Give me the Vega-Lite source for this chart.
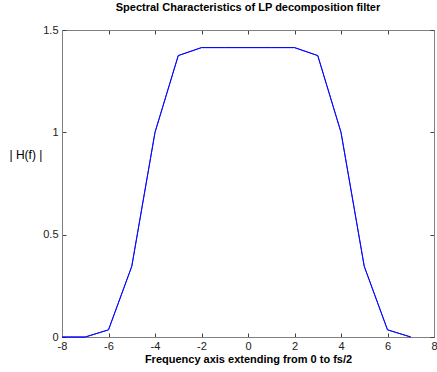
{
  "$schema": "https://vega.github.io/schema/vega-lite/v6.json",
  "width": 372,
  "height": 307,
  "autosize": {"type": "none"},
  "padding": {"left": 62, "top": 30, "right": 3, "bottom": 35},
  "background": "white",
  "title": {"text": "Spectral Characteristics of LP decomposition filter", "font": "Liberation Sans", "fontSize": 11, "fontWeight": "bold", "color": "black", "anchor": "middle", "offset": 11},
  "config": {
    "view": {"stroke": "#808080", "strokeWidth": 1},
    "axis": {"grid": false, "domainColor": "#808080", "tickColor": "#404040", "tickSize": -4, "labelFont": "Liberation Sans", "labelFontSize": 11, "labelColor": "#202020", "titleFont": "Liberation Sans", "titleColor": "black"}
  },
  "data": {"values": [
    {"f": -8, "h": 0}, {"f": -7, "h": 0}, {"f": -6, "h": 0.035}, {"f": -5, "h": 0.345},
    {"f": -4, "h": 1.0}, {"f": -3, "h": 1.375}, {"f": -2, "h": 1.414}, {"f": -1, "h": 1.414},
    {"f": 0, "h": 1.414}, {"f": 1, "h": 1.414}, {"f": 2, "h": 1.414}, {"f": 3, "h": 1.375},
    {"f": 4, "h": 1.0}, {"f": 5, "h": 0.345}, {"f": 6, "h": 0.035}, {"f": 7, "h": 0}
  ]},
  "resolve": {"axis": {"x": "independent", "y": "independent"}},
  "layer": [
    {
      "mark": {"type": "line", "color": "#0000FF", "strokeWidth": 0.9},
      "encoding": {
        "x": {"field": "f", "type": "quantitative", "scale": {"domain": [-8, 8], "nice": false, "zero": false},
          "axis": {"orient": "bottom", "values": [-8, -6, -4, -2, 0, 2, 4, 6, 8], "labelExpr": "'' + datum.value", "labelPadding": 7, "title": "Frequency axis extending from 0 to fs/2", "titleFontSize": 11, "titleFontWeight": "bold", "titlePadding": 2, "labelOverlap": false, "labelFlush": false}},
        "y": {"field": "h", "type": "quantitative", "scale": {"domain": [0, 1.5], "nice": false},
          "axis": {"orient": "left", "values": [0, 0.5, 1, 1.5], "format": "~g", "labelPadding": 8, "title": "| H(f) |", "titleAngle": 0, "titleFontWeight": "normal", "titleFontSize": 12, "titleX": -53, "titleY": 124, "titleAlign": "left", "titleBaseline": "middle", "labelFlush": false, "labelOverlap": false}}
      }
    },
    {
      "mark": {"type": "line", "color": "#0000FF", "strokeWidth": 0.9},
      "encoding": {
        "x": {"field": "f", "type": "quantitative", "axis": {"orient": "top", "values": [-8, -6, -4, -2, 0, 2, 4, 6, 8], "labels": false, "title": null}},
        "y": {"field": "h", "type": "quantitative", "axis": {"orient": "right", "values": [0, 0.5, 1, 1.5], "labels": false, "title": null}}
      }
    }
  ]
}
